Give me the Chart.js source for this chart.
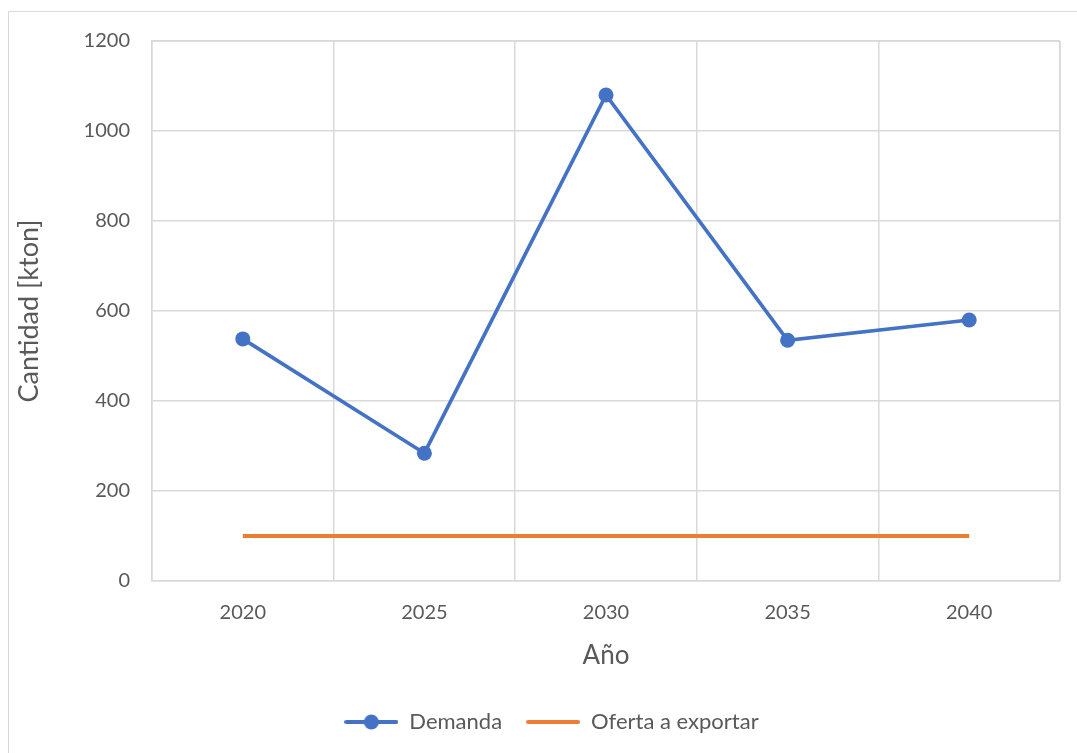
<!DOCTYPE html>
<html>
<head>
<meta charset="utf-8">
<script src="https://cdn.jsdelivr.net/npm/chart.js@4.4.1/dist/chart.umd.min.js"></script>
<style>
  html, body { margin: 0; padding: 0; background: #fff; }
  #wrap { position: absolute; left: 8px; top: 11px; width: 1069px; height: 742px;
          border: 1px solid #d9d9d9; box-sizing: border-box; border-right: none; border-bottom: none; }
  canvas { display: block; }
</style>
</head>
<body>
<div id="wrap"><canvas id="grafico" width="1068" height="741"></canvas></div>
<script>
const anos = ['2020', '2025', '2030', '2035', '2040'];
const demanda = [538, 284, 1080, 535, 580];
const oferta = [100, 100, 100, 100, 100];
const fuente = "Lato, 'Open Sans', sans-serif";

function marcador(color, conPunto) {
  const c = document.createElement('canvas');
  c.width = 54; c.height = 16;
  const g = c.getContext('2d');
  g.strokeStyle = color; g.lineWidth = 4; g.lineCap = 'round';
  g.beginPath(); g.moveTo(2, 8); g.lineTo(52, 8); g.stroke();
  if (conPunto) {
    g.fillStyle = color;
    g.beginPath(); g.arc(27, 8, 7.5, 0, Math.PI * 2); g.fill();
  }
  return c;
}

window.onload = function () {
  const ctx = document.getElementById('grafico').getContext('2d');
  new Chart(ctx, {
    type: 'line',
    data: {
      labels: anos,
      datasets: [{
        label: 'Demanda',
        data: demanda,
        borderColor: '#4472c4',
        backgroundColor: '#4472c4',
        borderWidth: 3.7,
        pointRadius: 7.5,
        pointHoverRadius: 7.5,
        pointBackgroundColor: '#4472c4',
        pointBorderWidth: 0,
        tension: 0
      }, {
        label: 'Oferta a exportar',
        data: oferta,
        borderColor: '#ed7d31',
        backgroundColor: '#ed7d31',
        borderWidth: 4,
        pointRadius: 0,
        tension: 0
      }]
    },
    options: {
      responsive: false,
      animation: false,
      layout: { padding: { left: 0, top: 29, right: 17, bottom: 10 } },
      plugins: {
        tooltip: { enabled: false },
        legend: {
          position: 'bottom',
          labels: {
            color: '#595959',
            font: { family: fuente, size: 22 },
            usePointStyle: true,
            pointStyleWidth: 54,
            boxHeight: 16,
            padding: 24,
            generateLabels: function (chart) {
              return chart.data.datasets.map(function (ds, i) {
                return {
                  text: ds.label,
                  pointStyle: marcador(ds.borderColor, i === 0),
                  fillStyle: ds.borderColor,
                  strokeStyle: ds.borderColor,
                  lineWidth: 0,
                  fontColor: '#595959',
                  datasetIndex: i
                };
              });
            }
          }
        }
      },
      scales: {
        x: {
          offset: true,
          grid: { offset: true, color: '#d9d9d9', lineWidth: 1.5, drawTicks: false },
          border: { color: '#d9d9d9', width: 1.5 },
          ticks: { color: '#595959', font: { family: fuente, size: 20 }, padding: 20 },
          title: { display: true, text: 'Año', color: '#595959', font: { family: fuente, size: 26 }, padding: { top: 4, bottom: 16 } },
          afterFit: function (s) { s.height = 106; }
        },
        y: {
          min: 0,
          max: 1200,
          ticks: {
            stepSize: 200, color: '#595959', font: { family: fuente, size: 20 }, padding: 22,
            callback: function (v) { return String(v); }
          },
          grid: { color: '#d9d9d9', lineWidth: 1.5, drawTicks: false },
          border: { color: '#d9d9d9', width: 1.5 },
          title: { display: true, text: 'Cantidad [kton]', color: '#595959', font: { family: fuente, size: 27 }, padding: { bottom: 3 } },
          afterFit: function (s) { s.width = 143; s.paddingTop = 10; s.paddingBottom = 10; }
        }
      }
    },
    plugins: [{
      id: 'bordeDerecho',
      afterLayout: function (chart) {
        chart.legend.left += 17;
        chart.legend.right += 17;
      },
      afterDraw: function (chart) {
        const a = chart.chartArea, g = chart.ctx;
        g.save(); g.strokeStyle = '#d9d9d9'; g.lineWidth = 1.5;
        g.beginPath(); g.moveTo(a.right, a.top); g.lineTo(a.right, a.bottom); g.moveTo(a.left, a.top); g.lineTo(a.right, a.top); g.stroke();
        g.restore();
      }
    }]
  });
};
</script>
</body>
</html>
